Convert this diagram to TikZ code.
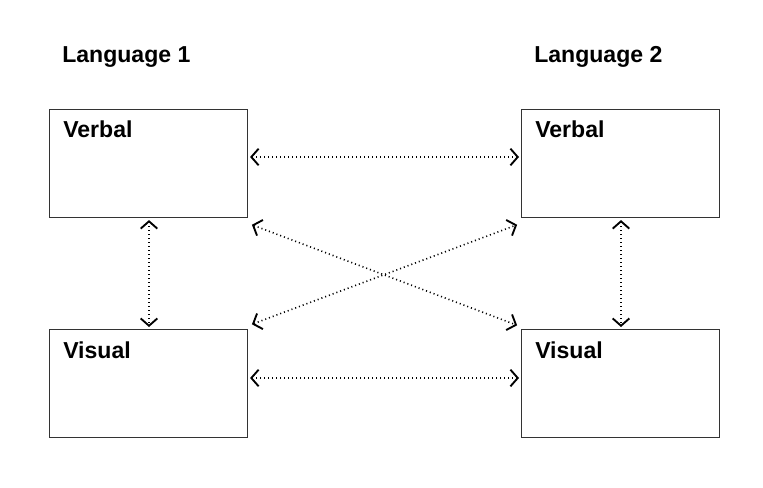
\documentclass[tikz,border=0pt]{standalone}
\usepackage{fontspec}
\setmainfont{Liberation Sans}
\usepackage{tikz}
\usetikzlibrary{arrows.meta, calc}

\tikzset{barb/.tip={Straight Barb[length=5.5pt, width=12.5pt, line width=1.4pt]}}

\begin{document}
\begin{tikzpicture}[x=0.75pt, y=-0.75pt,
    box/.style={draw=black!80, line width=0.8pt, minimum width=148.5pt, minimum height=81pt, inner sep=0pt, anchor=north west},
    title/.style={font=\fontsize{17.3}{20}\selectfont\bfseries, inner sep=0pt, anchor=base west},
    link/.style={line width=1.2pt, dash pattern=on 0.8pt off 2.2pt, {barb}-{barb}, shorten <=1.5pt, shorten >=1.5pt}]
    \useasboundingbox (0, 0) rectangle (763, 488);

    % Sprachen
    \node[title] (lang1) at (62, 63) {Language 1};
    \node[title] (lang2) at (534, 63) {Language 2};

    % Kaesten
    \node[box] (verb1) at (49, 109) {};
    \node[box] (vis1) at (49, 329) {};
    \node[box] (verb2) at (521, 109) {};
    \node[box] (vis2) at (521, 329) {};

    \node[title] (verb1t) at (63, 138) {Verbal};
    \node[title] (vis1t) at (63, 358) {Visual};
    \node[title] (verb2t) at (535, 138) {Verbal};
    \node[title] (vis2t) at (535, 358) {Visual};

    % Verbindungen
    \draw[link] (verb1.east |- 0, 157) -- (verb2.west |- 0, 157);
    \draw[link] (vis1.east |- 0, 378) -- (vis2.west |- 0, 378);
    \draw[link] (149, 0 |- verb1.south) -- (149, 0 |- vis1.north);
    \draw[link] (621, 0 |- verb2.south) -- (621, 0 |- vis2.north);
    \draw[link] ($(verb1.south east)+(2,6)$) -- ($(vis2.north west)+(-2,-3)$);
    \draw[link] ($(vis1.north east)+(2,-4)$) -- ($(verb2.south west)+(-2,6)$);
\end{tikzpicture}
\end{document}
